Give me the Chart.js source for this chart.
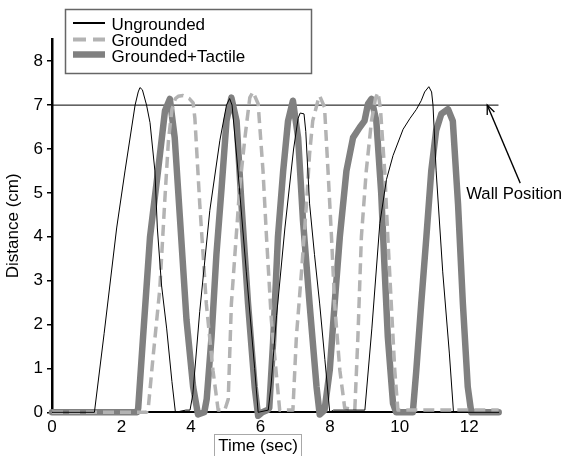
<!DOCTYPE html>
<html><head><meta charset="utf-8">
<script src="https://cdn.jsdelivr.net/npm/chart.js@4.4.1/dist/chart.umd.min.js"></script>
<style>html,body{margin:0;padding:0;background:#fff}#wrap{width:564px;height:456px}</style>
</head><body><div id="wrap"><canvas id="c" width="564" height="456"></canvas></div>
<script>
// ---- data (time in sec, distance in cm) ----
const seriesNames = ['Ungrounded', 'Grounded', 'Grounded+Tactile'];
const ungrounded = [[0,0],[1.22,0],[1.5,1.8],[1.86,4.2],[2.1,5.5],[2.39,7.0],[2.48,7.3],[2.53,7.4],[2.6,7.35],[2.72,7.0],[2.82,6.6],[2.96,5.5],[3.03,4.2],[3.15,2.9],[3.3,1.9],[3.45,0.7],[3.55,0],[3.85,0.05],[3.97,0.05],[4.05,0.4],[4.25,2.3],[4.54,4.6],[4.83,6.2],[5.02,7.0],[5.11,7.15],[5.18,7.0],[5.35,5.5],[5.59,3.2],[5.83,1.0],[5.93,0],[6.22,0.05],[6.3,0.6],[6.46,2.2],[6.7,4.2],[6.95,6.0],[7.08,6.7],[7.14,6.82],[7.25,6.8],[7.3,6.4],[7.41,4.75],[7.55,3.6],[7.7,2.47],[7.85,1.2],[7.99,0],[8.1,0.05],[9.0,0.05],[9.2,1.9],[9.43,4.3],[9.62,5.3],[9.81,5.85],[10.1,6.45],[10.3,6.7],[10.48,6.9],[10.62,7.1],[10.72,7.3],[10.84,7.42],[10.92,7.3],[10.96,7.0],[11.05,5.5],[11.24,3.2],[11.43,1.35],[11.55,0],[12.85,0]];
const grounded = [[0,0],[2.72,0],[2.77,0.1],[2.9,1.2],[3.1,2.8],[3.25,4.9],[3.35,6.2],[3.45,6.9],[3.55,7.15],[3.63,7.2],[3.77,7.22],[3.95,7.15],[4.06,7.05],[4.11,6.7],[4.25,4.75],[4.44,2.47],[4.63,0.96],[4.78,0.05],[4.97,0.05],[5.07,0.3],[5.16,2.47],[5.4,5.13],[5.55,6.26],[5.69,7.17],[5.78,7.3],[5.93,7.03],[6.07,5.5],[6.17,4.0],[6.31,2.1],[6.45,0.9],[6.55,0.05],[6.93,0.05],[7.03,1.72],[7.18,3.23],[7.32,4.75],[7.41,5.89],[7.5,6.64],[7.65,7.1],[7.7,7.21],[7.84,6.95],[7.94,5.5],[8.04,4.0],[8.13,2.47],[8.28,0.96],[8.42,0.1],[8.71,0.05],[8.8,1.72],[8.9,4.0],[9.04,5.5],[9.19,6.64],[9.31,7.17],[9.38,7.29],[9.45,6.9],[9.57,5.5],[9.66,4.0],[9.76,2.47],[9.86,0.96],[9.95,0.05],[12.85,0.05]];
const groundedTactile = [[0,0],[2.45,0],[2.48,0.1],[2.62,1.72],[2.82,4.0],[3.05,5.5],[3.25,6.87],[3.39,7.14],[3.53,6.26],[3.68,4.43],[3.87,2.1],[4.06,0.58],[4.2,-0.05],[4.38,0],[4.45,0.3],[4.59,1.72],[4.73,3.6],[4.88,5.13],[5.02,6.64],[5.16,7.17],[5.31,6.64],[5.45,4.75],[5.64,2.47],[5.83,0.58],[5.93,-0.08],[6.05,0],[6.2,0.05],[6.25,0.1],[6.36,1.6],[6.5,4.0],[6.65,5.5],[6.79,6.64],[6.93,7.1],[7.08,6.26],[7.22,4.37],[7.41,2.47],[7.61,0.58],[7.7,-0.05],[7.84,0.05],[7.99,0.96],[8.13,2.47],[8.28,4.0],[8.47,5.5],[8.66,6.26],[8.85,6.49],[8.99,6.64],[9.09,7.03],[9.19,7.14],[9.33,6.64],[9.47,5.0],[9.57,3.23],[9.66,1.72],[9.81,0.2],[9.9,0],[10.38,0],[10.48,0.96],[10.62,2.47],[10.77,4.0],[10.91,5.5],[11.05,6.42],[11.2,6.8],[11.39,6.91],[11.53,6.64],[11.68,4.75],[11.82,2.47],[11.96,0.58],[12.06,0],[12.85,0]];
const wallLine = [[0,7],[12.85,7]];
const wallArrowTarget = [12.52, 7];
const xTicks = [0, 2, 4, 6, 8, 10, 12];
const yTicks = [0, 1, 2, 3, 4, 5, 6, 7, 8];
const xTitle = 'Time (sec)';
const yTitle = 'Distance (cm)';
const wallLabel = 'Wall Position';

const FONT = "'Liberation Sans', Arial, Helvetica, sans-serif";
const COLORS = ['#000000', '#b3b3b3', '#808080'];
const WIDTHS = [1, 3.5, 6.5];
const DASHES = [[], [11, 6], []];

function toPts(arr) { return arr.map(p => ({x: p[0], y: p[1]})); }
function mk(label, arr, i) {
  return {label, data: toPts(arr), borderColor: COLORS[i], borderWidth: WIDTHS[i], borderDash: DASHES[i],
    pointRadius: 0, fill: false, tension: 0, borderJoinStyle: 'round', borderCapStyle: i === 1 ? 'butt' : 'round', clip: 8};
}

const decor = {
  id: 'decor',
  afterDraw(chart) {
    const ctx = chart.ctx, xs = chart.scales.x, ys = chart.scales.y;
    ctx.save();
    // y title
    ctx.fillStyle = '#000';
    ctx.font = '17px ' + FONT;
    ctx.textAlign = 'center'; ctx.textBaseline = 'middle';
    ctx.save(); ctx.translate(13, (chart.chartArea.top + chart.chartArea.bottom) / 2); ctx.rotate(-Math.PI / 2);
    ctx.fillText(yTitle, 0, 0); ctx.restore();
    // x title in box
    ctx.fillStyle = '#fff'; ctx.fillRect(214, 434, 87, 24);
    ctx.strokeStyle = '#a8a8a8'; ctx.lineWidth = 1; ctx.strokeRect(214.5, 434.5, 87, 24);
    ctx.fillStyle = '#000'; ctx.fillText(xTitle, 258, 446);
    // legend
    ctx.fillStyle = '#fff'; ctx.fillRect(65, 9, 247, 65);
    ctx.strokeStyle = '#666'; ctx.lineWidth = 1.5; ctx.strokeRect(65.5, 9.5, 246, 64);
    const rows = [23, 39.5, 54.5], base = [30, 46, 62];
    for (let i = 0; i < 3; i++) {
      ctx.beginPath(); ctx.strokeStyle = COLORS[i]; ctx.lineWidth = i === 0 ? 2 : (i === 1 ? 4 : 6.5);
      ctx.setLineDash(i === 1 ? [13, 7] : []); ctx.lineCap = 'butt';
      ctx.moveTo(73, rows[i]); ctx.lineTo(105, rows[i]); ctx.stroke();
      ctx.setLineDash([]);
      ctx.fillStyle = '#000'; ctx.textAlign = 'left'; ctx.textBaseline = 'alphabetic';
      ctx.font = '17px ' + FONT;
      ctx.fillText(seriesNames[i], 111.5, base[i]);
    }
    // wall arrow
    const tx = xs.getPixelForValue(wallArrowTarget[0]), ty = ys.getPixelForValue(wallArrowTarget[1]);
    const sx = tx + 33, sy = ty + 78;
    ctx.strokeStyle = '#000'; ctx.lineWidth = 1.3;
    ctx.beginPath(); ctx.moveTo(sx, sy); ctx.lineTo(tx, ty); ctx.stroke();
    const ang = Math.atan2(ty - sy, tx - sx), L = 10, a = 0.4;
    ctx.beginPath();
    ctx.moveTo(tx - L * Math.cos(ang - a), ty - L * Math.sin(ang - a));
    ctx.lineTo(tx, ty);
    ctx.lineTo(tx - L * Math.cos(ang + a), ty - L * Math.sin(ang + a));
    ctx.stroke();
    ctx.fillStyle = '#000'; ctx.font = '16.7px ' + FONT; ctx.textAlign = 'left'; ctx.textBaseline = 'middle';
    ctx.fillText(wallLabel, tx - 21, ty + 89);
    ctx.restore();
  }
};

new Chart(document.getElementById('c'), {
  type: 'line',
  data: {
    datasets: [
      mk(seriesNames[0], ungrounded, 0),
      mk(seriesNames[1], grounded, 1),
      mk(seriesNames[2], groundedTactile, 2),
      {label: 'wall', data: toPts(wallLine), borderColor: '#000', borderWidth: 1, pointRadius: 0, fill: false}
    ]
  },
  options: {
    responsive: false, animation: false, devicePixelRatio: 1,
    layout: {padding: {top: 39.3, right: 65.3, left: 0, bottom: 0}},
    plugins: {legend: {display: false}, tooltip: {enabled: false}},
    scales: {
      x: {type: 'linear', min: 0, max: 12.85,
        afterBuildTicks: s => { s.ticks = xTicks.map(v => ({value: v})); },
        afterFit: s => { s.height = 43.7; },
        grid: {display: true, drawOnChartArea: false, drawTicks: false},
        border: {display: true, color: '#000', width: 2},
        ticks: {color: '#000', font: {size: 17, family: FONT}, padding: 5, maxRotation: 0, autoSkip: false}},
      y: {type: 'linear', min: 0, max: 8.5,
        afterBuildTicks: s => { s.ticks = yTicks.map(v => ({value: v})); },
        afterFit: s => { s.width = 52; },
        grid: {display: true, drawOnChartArea: false, drawTicks: true, tickLength: 5, color: '#000', lineWidth: 1.5},
        border: {display: true, color: '#000', width: 2.5},
        ticks: {color: '#000', font: {size: 17, family: FONT}, padding: 4, autoSkip: false}}
    }
  },
  plugins: [decor]
});
</script></body></html>
